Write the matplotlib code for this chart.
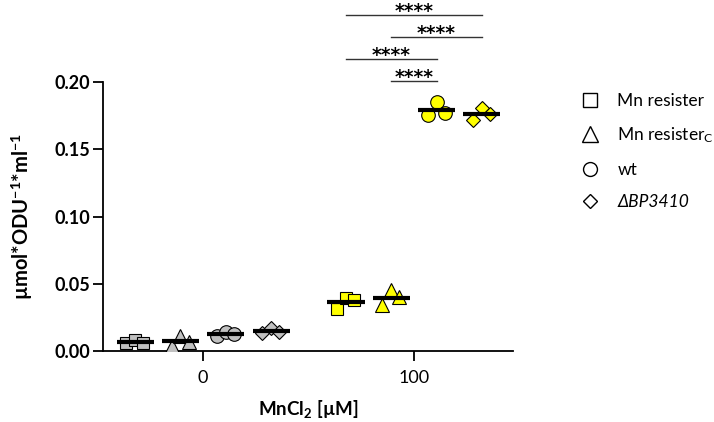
import matplotlib
matplotlib.use('Agg')
import matplotlib.pyplot as plt
from matplotlib.lines import Line2D
import numpy as np

plt.rcParams['font.family'] = ['Lato', 'DejaVu Sans']
plt.rcParams['mathtext.fontset'] = 'custom'
plt.rcParams['mathtext.rm'] = 'Lato'
plt.rcParams['mathtext.bf'] = 'Lato:bold'
plt.rcParams['mathtext.it'] = 'Lato:italic'

# data
conc_labels = ['0', '100']
strains = ['Mn resister', 'Mn resister$_\\mathrm{C}$', 'wt', '\u0394BP3410']
mn_resister_0 = [0.0058, 0.0082, 0.0056]
mn_resister_100 = [0.0311, 0.0393, 0.0380]
mn_resister_c_0 = [0.0040, 0.0110, 0.0070]
mn_resister_c_100 = [0.0340, 0.0450, 0.0400]
wt_0 = [0.0110, 0.0142, 0.0127]
wt_100 = [0.1756, 0.1850, 0.1770]
bp3410_0 = [0.0135, 0.0170, 0.0138]
bp3410_100 = [0.1719, 0.1808, 0.1760]
# significance at 100 uM: (strain a, strain b, label)
comparisons = [(1, 2, '****'), (0, 2, '****'), (1, 3, '****'), (0, 3, '****')]

series = [
    (mn_resister_0, mn_resister_100),
    (mn_resister_c_0, mn_resister_c_100),
    (wt_0, wt_100),
    (bp3410_0, bp3410_100),
]
markers = ['s', '^', 'o', 'D']
sizes = [9.2, 9.8, 9.8, 7.0]
fills = ['#c0c0c0', '#ffff00']
offsets = [-0.3225, -0.1075, 0.1075, 0.3225]
jitter = [-0.042, 0.0, 0.038]


def draw_group(ax, x, vals, marker, ms, color):
    xs = x + np.array(jitter)
    ax.plot(xs, vals, linestyle='none', marker=marker, markersize=ms,
            markerfacecolor=color, markeredgecolor='black',
            markeredgewidth=0.8, zorder=3)
    m = np.mean(vals)
    ax.plot([x - 0.088, x + 0.088], [m, m], color='black', lw=3.0,
            solid_capstyle='butt', zorder=4)


def main():
    fig = plt.figure(figsize=(7.14, 4.22), dpi=100)
    ax = fig.add_axes([0.1443, 0.1682, 0.5742, 0.6375])

    for i, (v0, v100) in enumerate(series):
        for j, vals in enumerate([v0, v100]):
            draw_group(ax, j + offsets[i], vals, markers[i], sizes[i], fills[j])

    # significance bars
    for k, (a, b, lab) in enumerate(comparisons):
        y = 0.2007 + k * 0.0163
        xa, xb = 1 + offsets[a], 1 + offsets[b]
        ax.plot([xa, xb], [y, y], color='#333333', lw=1.0, clip_on=False)
        ax.annotate(lab, xy=((xa + xb) / 2, y), xytext=(0, -1.5),
                    textcoords='offset points', ha='center', va='baseline',
                    fontsize=13.5, fontweight='bold', family='DejaVu Sans',
                    annotation_clip=False)

    ax.set_xlim(-0.475, 1.47)
    ax.set_ylim(0, 0.2)
    ax.set_xticks([0, 1])
    ax.set_xticklabels(conc_labels, fontsize=13)
    ax.set_yticks([0, 0.05, 0.10, 0.15, 0.20])
    ax.set_yticklabels(['0.00', '0.05', '0.10', '0.15', '0.20'],
                       fontsize=13, fontweight='bold')
    ax.tick_params(length=7, width=1.3, pad=2)
    ax.tick_params(axis='x', pad=7)
    for s in ['top', 'right']:
        ax.spines[s].set_visible(False)
    for s in ['left', 'bottom']:
        ax.spines[s].set_linewidth(1.3)

    ax.set_xlabel('MnCl$_\\mathbf{2}$ [\u00b5M]', fontsize=13.5,
                  fontweight='bold', labelpad=8)
    ax.set_ylabel('\u00b5mol*ODU$^\\mathbf{-1}$*ml$^\\mathbf{-1}$',
                  fontsize=14.5, fontweight='bold', labelpad=14)

    handles = [Line2D([], [], linestyle='none', marker=mk, markersize=ms,
                      markerfacecolor='white', markeredgecolor='black',
                      markeredgewidth=1.0)
               for mk, ms in zip(markers, [10, 11, 10, 7])]
    leg = fig.legend(handles, strains, loc='upper left',
                     bbox_to_anchor=(0.799, 0.80), frameon=False,
                     fontsize=12.5, handlelength=1.2, handletextpad=1.0,
                     labelspacing=0.95, borderpad=0)
    leg.get_texts()[3].set_fontstyle('italic')

    fig.savefig('out.png', dpi=100)


if __name__ == '__main__':
    main()
